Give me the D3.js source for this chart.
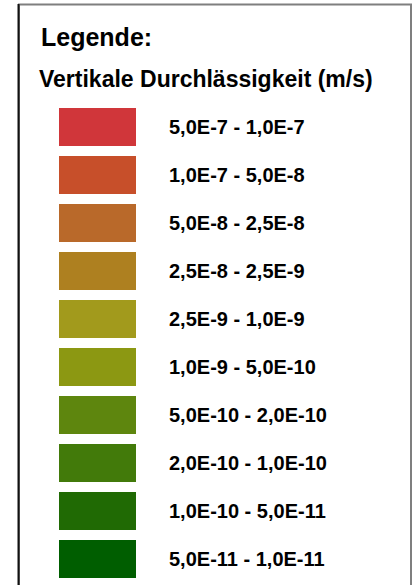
<!DOCTYPE html>
<html>

<head>
    <meta charset="utf-8">
    <style>
        body { margin: 0; background: #fff; }
        text { font-family: "Liberation Sans", Arial, sans-serif; font-weight: bold; fill: #000; }
    </style>
</head>

<body>
    <script src="https://cdn.jsdelivr.net/npm/d3@7"></script>
    <script>
        // legend classes (vertical permeability, m/s)
        var classes = ["5,0E-7 - 1,0E-7", "1,0E-7 - 5,0E-8", "5,0E-8 - 2,5E-8", "2,5E-8 - 2,5E-9",
            "2,5E-9 - 1,0E-9", "1,0E-9 - 5,0E-10", "5,0E-10 - 2,0E-10", "2,0E-10 - 1,0E-10",
            "1,0E-10 - 5,0E-11", "5,0E-11 - 1,0E-11"];
        var colors = ["#d0363a", "#c74f2a", "#b9692a", "#ae8020", "#a29a1c",
            "#8c9812", "#5e860e", "#427a0a", "#206a04", "#005e00"];
        var title = "Legende:";
        var subtitle = "Vertikale Durchlässigkeit (m/s)";

        var width = 414, height = 585;

        var svg = d3.select("body").append("svg")
            .attr("width", width)
            .attr("height", height);

        // frame: open at the bottom, grey top/right, dark left edge
        svg.append("path")
            .attr("d", "M19,600 V4.5 H411 V600")
            .attr("fill", "none")
            .attr("stroke", "#7f7f7f")
            .attr("stroke-width", 2);
        svg.append("line")
            .attr("x1", 18.5).attr("x2", 18.5)
            .attr("y1", 4).attr("y2", 600)
            .attr("stroke", "#111")
            .attr("stroke-width", 2);

        svg.append("text")
            .attr("x", 41)
            .attr("y", 46)
            .style("font-size", "25px")
            .text(title);

        svg.append("text")
            .attr("x", 39)
            .attr("y", 87)
            .style("font-size", "23px")
            .text(subtitle);

        // one row per class: 38px swatch, 48px step
        var y = d3.scaleBand()
            .domain(classes)
            .range([108, 578])
            .paddingInner(10 / 48)
            .paddingOuter(0);

        var rows = svg.selectAll(".row")
            .data(classes)
            .enter().append("g")
            .attr("class", "row")
            .attr("transform", function (d) { return "translate(0," + y(d) + ")"; });

        rows.append("rect")
            .attr("x", 59)
            .attr("width", 77)
            .attr("height", y.bandwidth())
            .attr("fill", function (d, i) { return colors[i]; });

        rows.append("text")
            .attr("x", 169)
            .attr("y", y.bandwidth() / 2)
            .attr("dy", "0.36em")
            .style("font-size", "20px")
            .text(function (d) { return d; });
    </script>
</body>

</html>
